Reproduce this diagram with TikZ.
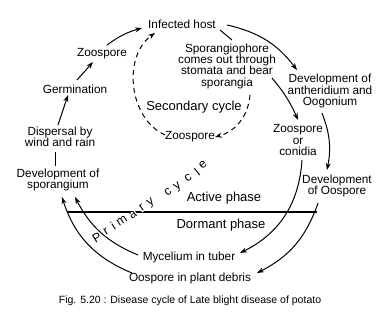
\documentclass[tikz,border=0pt]{standalone}
\usepackage{fontspec}
\setmainfont{Liberation Sans}
\usepackage{tikz}
\usetikzlibrary{arrows.meta}

\begin{document}
\begin{tikzpicture}[x=1pt, y=1pt,
    lbl/.style={font=\fontsize{11.8}{11.3}\selectfont, align=center, inner sep=1pt},
    biglbl/.style={font=\fontsize{13}{13}\selectfont, inner sep=1pt},
    arr/.style={-{Stealth[length=7pt, width=5pt]}, line width=1pt},
    dasharr/.style={arr, dash pattern=on 5pt off 4pt},
    letter/.style={font=\fontsize{12.5}{12.5}\selectfont, fill=white, inner sep=0.3pt}]
    \useasboundingbox (0,0) rectangle (388,-318);

    % outer ring of stages
    \node[lbl] (host) at (182,-24) {Infected host};
    \node[lbl] (zooA) at (102,-54) {Zoospore};
    \node[lbl] (germ) at (75,-89) {Germination};
    \node[lbl] (disp) at (60,-137) {Dispersal by\\wind and rain};
    \node[lbl] (devsp) at (58,-180) {Development of\\sporangium};
    \node[lbl] (anth) at (330,-91) {Development of\\antheridium and\\Oogonium};
    \node[lbl] (zooC) at (298,-140) {Zoospore\\or\\conidia};
    \node[lbl] (devoo) at (337,-186) {Development\\of Oospore};
    \node[lbl] (myc) at (189,-257) {Mycelium in tuber};
    \node[lbl] (oosp) at (190,-278) {Oospore in plant debris};

    % secondary cycle
    \node[lbl] (spph) at (227,-66) {Sporangiophore\\comes out through\\stomata and bear\\sporangia};
    \node[biglbl] (sec) at (194,-107) {Secondary cycle};
    \node[lbl] (zooB) at (190,-137) {Zoospore};

    % phases
    \node[biglbl] (active) at (224,-198) {Active phase};
    \node[biglbl] (dormant) at (221,-225) {Dormant phase};

    \node[font=\fontsize{10.5}{10.5}\selectfont, inner sep=1pt] (caption) at (190,-301)
        {Fig. 5.20 : Disease cycle of Late blight disease of potato};

    \draw[arr] ([shift={(5,9)}]zooA.center) to[bend left=10] ([shift={(-40,-4)}]host.center);
    \draw[arr] ([shift={(45,-1)}]host.center) to[bend left=20] ([shift={(-33,21)}]anth.center);
    \draw[line width=1pt] ([shift={(38,-6)}]host.center) -- ([shift={(5,26)}]spph.center);
    \draw[arr] ([shift={(45,-12)}]spph.center) to[bend left=8] ([shift={(0,20)}]zooC.center);
    \draw[arr] ([shift={(-8,-22)}]anth.center) to[bend left=16] ([shift={(-10,16)}]devoo.center);
    \draw[arr] ([shift={(4,-20)}]zooC.center) to[bend left=30] ([shift={(51,4)}]myc.center);
    \draw[arr] ([shift={(-19,-17)}]devoo.center) to[bend left=22] ([shift={(67,5)}]oosp.center);
    \draw[arr] ([shift={(-51,2)}]myc.center) to[bend left=20] ([shift={(17,-17)}]devsp.center);
    \draw[arr] ([shift={(-58,5)}]oosp.center) to[bend left=25] ([shift={(4,-17)}]devsp.center);
    \draw[line width=1pt] ([shift={(-3,14)}]devsp.center) -- ([shift={(-5,-15)}]disp.center);
    \draw[arr] ([shift={(-2,12)}]disp.center) -- ([shift={(-7,-6)}]germ.center);
    \draw[arr] ([shift={(2,9)}]germ.center) -- ([shift={(-9,-8)}]zooA.center);

    \draw[dasharr] ([shift={(23,-29)}]spph.center) to[bend left=35] ([shift={(25,0)}]zooB.center);
    \draw[dasharr] ([shift={(-25,2)}]zooB.center) to[bend left=60] ([shift={(-27,-9)}]host.center);

    \draw[line width=1.1pt] (67,-212) -- (317,-212);

    % letters of "Primary cycle" along the ring
    \foreach \ch/\px/\py/\rot [count=\i] in {P/97/238/31, r/106/232/32, i/113/226/33,
        m/122/221/33, a/133/215/34, r/142/208/35, y/151/203/35, c/168/192/36,
        y/178/187/37, c/188/178/38, l/197/172/39, e/203/165/40}
        \node[letter, rotate=\rot] (pc\i) at (\px,-\py) {\ch};
\end{tikzpicture}
\end{document}
